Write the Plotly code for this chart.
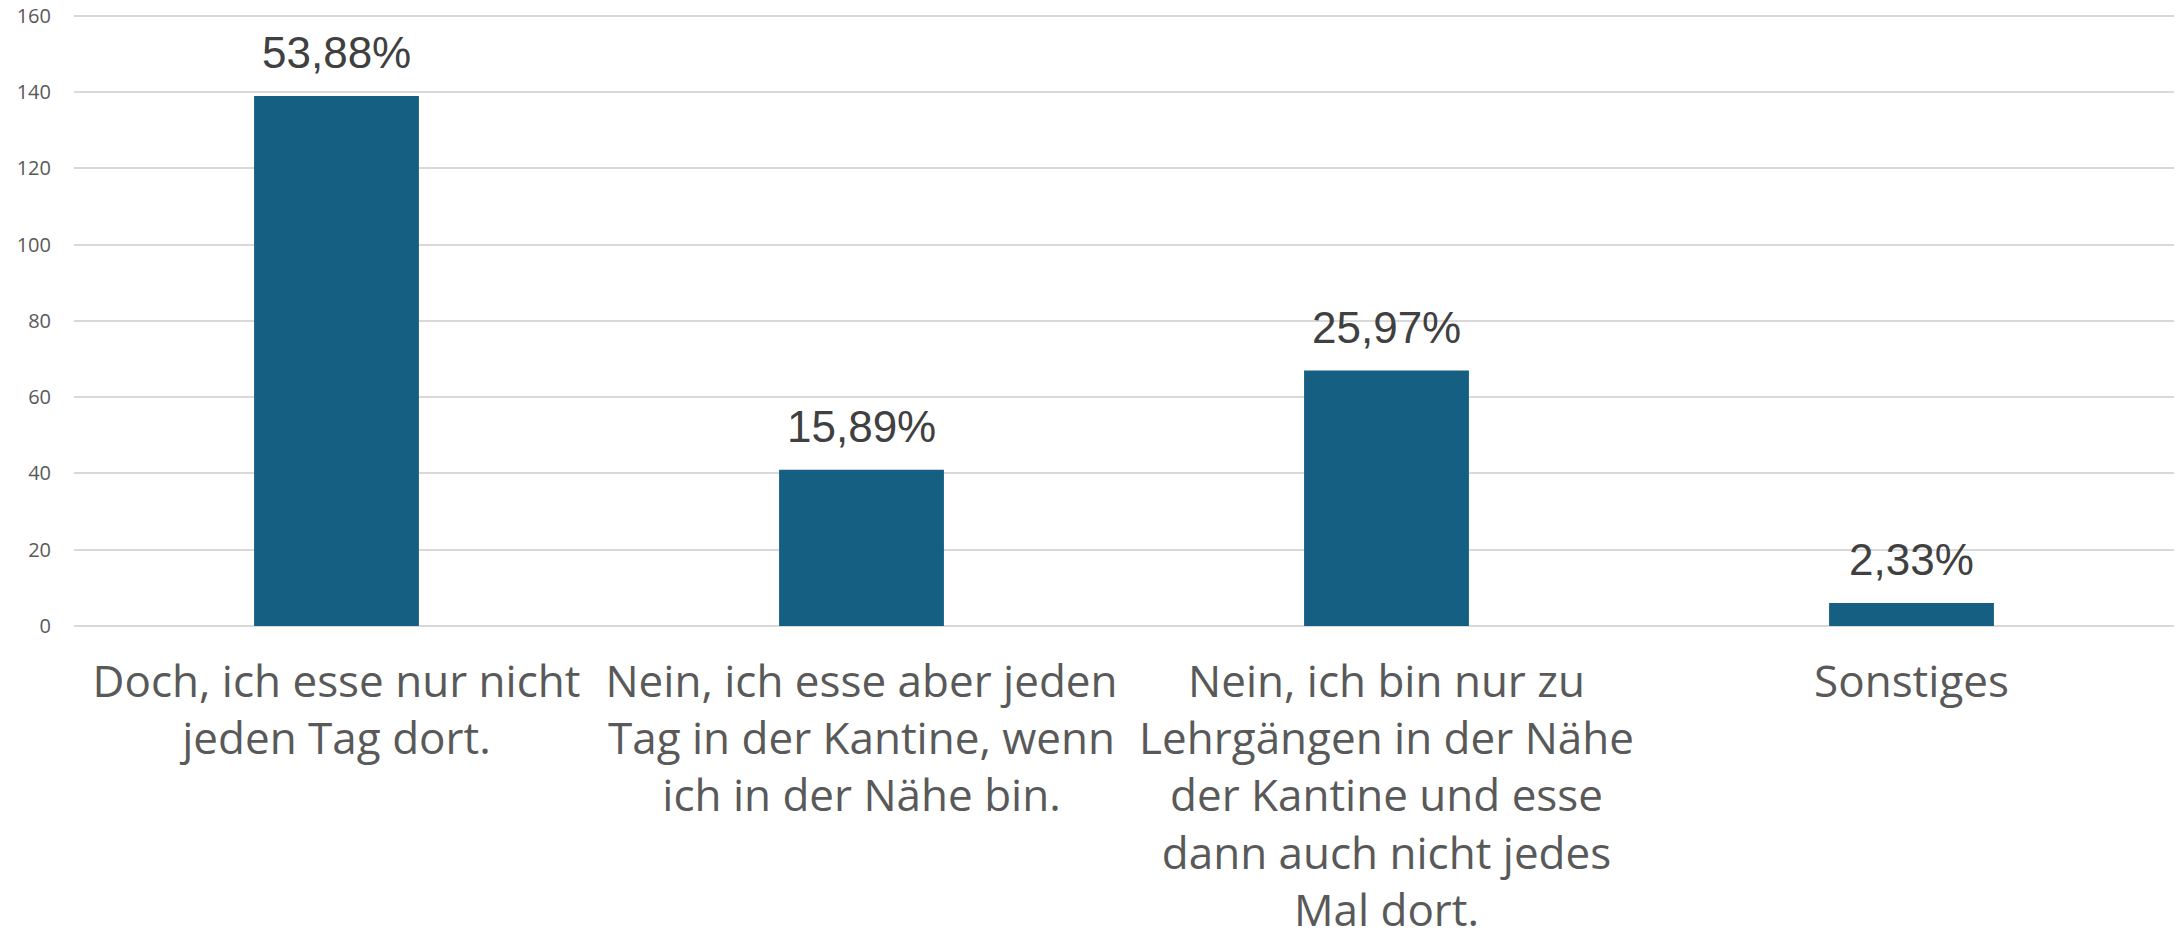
import plotly.graph_objects as go

categories = [
    "Doch, ich esse nur nicht<br>jeden Tag dort.",
    "Nein, ich esse aber jeden<br>Tag in der Kantine, wenn<br>ich in der Nähe bin.",
    "Nein, ich bin nur zu<br>Lehrgängen in der Nähe<br>der Kantine und esse<br>dann auch nicht jedes<br>Mal dort.",
    "Sonstiges",
]
values = [139, 41, 67, 6]
labels = ["53,88%", "15,89%", "25,97%", "2,33%"]
y_ticks = [0, 20, 40, 60, 80, 100, 120, 140, 160]

BAR_COLOR = "#156082"

fig = go.Figure()
fig.add_trace(go.Bar(
    x=categories, y=values,
    marker=dict(color=BAR_COLOR, line=dict(width=0)),
    hoverinfo="skip",
))

for c, v, t in zip(categories, values, labels):
    fig.add_annotation(
        x=c, y=v, text=t, showarrow=False, yanchor="bottom", yshift=17,
        font=dict(family="Liberation Sans, Arial", size=44, color="#404040"),
    )

fig.update_layout(
    width=2176, height=938,
    margin=dict(l=74, r=2, t=14, b=312),
    paper_bgcolor="white", plot_bgcolor="white",
    bargap=0.686,
    showlegend=False,
    xaxis=dict(
        showgrid=False, showline=False, ticks="", automargin=False,
        tickfont=dict(family="Open Sans", size=44, color="#595959"),
        ticklabelstandoff=26,
    ),
    yaxis=dict(
        range=[0, 160.5], tickvals=y_ticks, automargin=False,
        showgrid=True, gridcolor="#D9D9D9", gridwidth=1.5,
        zeroline=True, zerolinecolor="#D9D9D9", zerolinewidth=1.5,
        showline=False, ticks="",
        tickfont=dict(family="Open Sans", size=20, color="#595959"),
        ticklabelstandoff=22,
    ),
)

fig.write_html(
    "out.html",
    config={"displayModeBar": False},
    post_script="document.body.style.margin='0';",
)
